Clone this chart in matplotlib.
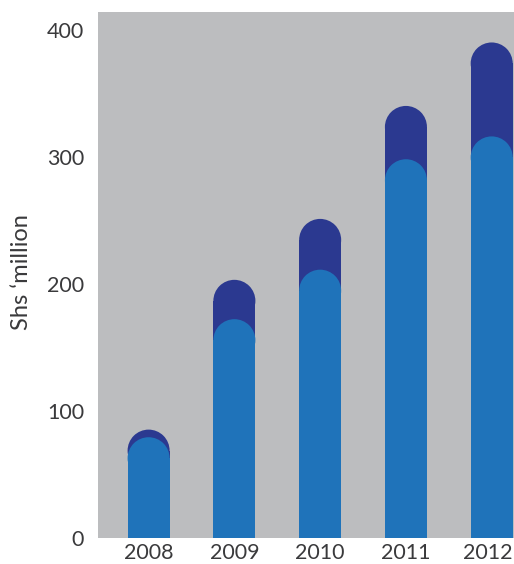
import matplotlib
matplotlib.use("Agg")
import matplotlib.pyplot as plt
from matplotlib.patches import Rectangle, Ellipse
from matplotlib.transforms import ScaledTranslation

plt.rcParams['font.family'] = ['Lato', 'DejaVu Sans']

years = ["2008", "2009", "2010", "2011", "2012"]
total_values = [85, 203, 251, 340, 390]
inner_values = [79, 172, 211, 298, 316]
y_ticks = [0, 100, 200, 300, 400]

BG = "#bcbdbf"
DARK = "#2b3990"
LIGHT = "#1f73ba"
TEXT = "#3a3a3c"
BAR_W = 0.49

W, H = 514, 564
fig = plt.figure(figsize=(W / 100, H / 100), dpi=100)
ax = fig.add_axes([98 / W, 26.5 / H, 416 / W, (537.5 - 12) / H])
ax.set_facecolor(BG)
ax.set_xlim(-0.59, 4.26)
ax.set_ylim(0, 414)
for s in ax.spines.values():
    s.set_visible(False)

# vertical radius of the rounded cap, expressed in data units
fig.canvas.draw()
p0 = ax.transData.transform((0, 0))
p1 = ax.transData.transform((BAR_W, 0))
r_px = (p1[0] - p0[0]) / 2
py_per_unit = ax.transData.transform((0, 100))[1] - p0[1]
r_y = r_px / py_per_unit * 100


def rounded_bar(x, value, color, z):
    body = value - r_y
    ax.add_patch(Rectangle((x - BAR_W / 2, 0), BAR_W, body, facecolor=color,
                           edgecolor="none", zorder=z))
    ax.add_patch(Ellipse((x, body), BAR_W, 2 * r_y, facecolor=color,
                         edgecolor="none", zorder=z))


for i, (tv, iv) in enumerate(zip(total_values, inner_values)):
    rounded_bar(i, tv, DARK, 2)
    rounded_bar(i, iv, LIGHT, 3)

ax.set_xticks(range(len(years)))
ax.set_xticklabels(years)
ax.set_yticks(y_ticks)
ax.tick_params(axis="both", length=0, labelsize=15.5, colors=TEXT)
ax.tick_params(axis="y", pad=10)
ax.tick_params(axis="x", pad=4)
ax.set_ylabel("Shs \u2018million", fontsize=17, color=TEXT)
ax.yaxis.set_label_coords(-0.158, 0.505)

# keep the last year label inside the figure edge
last = ax.get_xticklabels()[-1]
last.set_transform(last.get_transform() + ScaledTranslation(-4 / 100, 0, fig.dpi_scale_trans))

fig.savefig("out.png", dpi=100)
